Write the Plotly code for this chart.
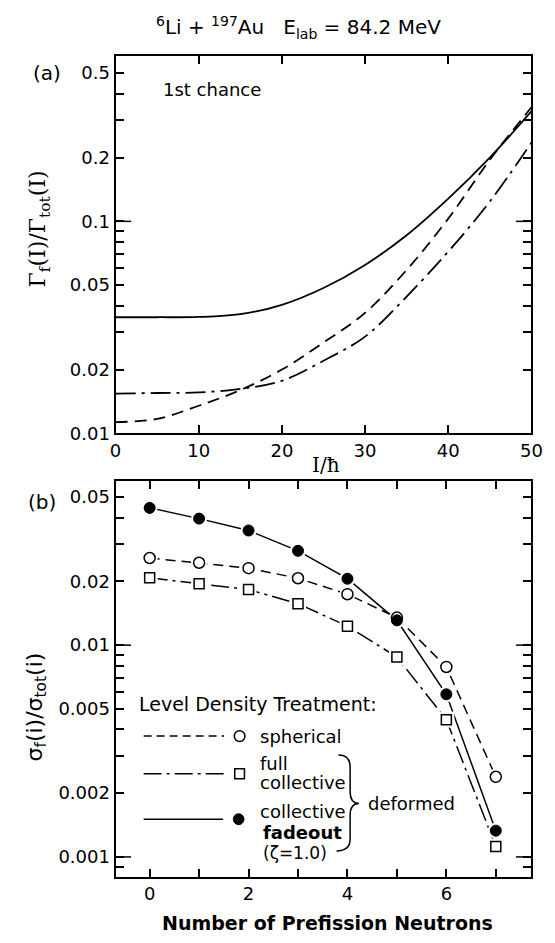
import numpy as np
import plotly.graph_objects as go

W, H = 555, 943
SANS = "DejaVu Sans"
SERIF = "DejaVu Serif"

# ---------------- data: panel (a) ----------------
spin_I = [0, 5, 10, 15, 20, 25, 30, 35, 40, 45, 50]
ratio_fadeout = [0.0353, 0.0353, 0.0354, 0.0365, 0.0404, 0.0485, 0.0623, 0.086, 0.128, 0.200, 0.330]
ratio_spherical = [0.0113, 0.0117, 0.0135, 0.0160, 0.0200, 0.0268, 0.0370, 0.0590, 0.103, 0.195, 0.345]
ratio_fullcoll = [0.0154, 0.0155, 0.0156, 0.0162, 0.0177, 0.0220, 0.0286, 0.0442, 0.072, 0.124, 0.235]

a_tickvals = [0.01, 0.02, 0.05, 0.1, 0.2, 0.5]
a_ticktext = ["0.01", "0.02", "0.05", "0.1", "0.2", "0.5"]
a_minor = [0.03, 0.04, 0.06, 0.07, 0.08, 0.09, 0.3, 0.4]
a_xticks = [0, 10, 20, 30, 40, 50]

# ---------------- data: panel (b) ----------------
n_neutrons = [0, 1, 2, 3, 4, 5, 6, 7]
sig_spherical = [0.0258, 0.0245, 0.0231, 0.0207, 0.0174, 0.0135, 0.00789, 0.00239]
sig_fullcoll = [0.0208, 0.0195, 0.0183, 0.0157, 0.0123, 0.00879, 0.00445, 0.00112]
sig_fadeout = [0.0445, 0.0396, 0.0348, 0.0279, 0.0206, 0.0131, 0.00586, 0.00133]

b_tickvals = [0.001, 0.002, 0.005, 0.01, 0.02, 0.05]
b_ticktext = ["0.001", "0.002", "0.005", "0.01", "0.02", "0.05"]
b_minor = [0.0009, 0.003, 0.004, 0.006, 0.007, 0.008, 0.009, 0.03, 0.04]
b_xticks = [0, 2, 4, 6]
b_xminor = [1, 3, 5, 7]


def px(x):
    return x / W


def py(y):
    return 1 - y / H


DASH = "12px,7px"
DASHDOT = "20px,6px,3px,6px"
LW = 1.8

fig = go.Figure()

# panel (a) curves
fig.add_trace(go.Scatter(x=spin_I, y=ratio_fadeout, mode="lines", line=dict(color="black", width=LW, shape="spline"),
                         xaxis="x", yaxis="y", showlegend=False))
fig.add_trace(go.Scatter(x=spin_I, y=ratio_spherical, mode="lines", line=dict(color="black", width=LW, dash=DASH, shape="spline"),
                         xaxis="x", yaxis="y", showlegend=False))
fig.add_trace(go.Scatter(x=spin_I, y=ratio_fullcoll, mode="lines", line=dict(color="black", width=LW, dash=DASHDOT, shape="spline"),
                         xaxis="x", yaxis="y", showlegend=False))

# panel (b) lines
fig.add_trace(go.Scatter(x=n_neutrons, y=sig_spherical, mode="lines", line=dict(color="black", width=1.5, dash="10px,6px"),
                         xaxis="x2", yaxis="y2", showlegend=False))
fig.add_trace(go.Scatter(x=n_neutrons, y=sig_fullcoll, mode="lines", line=dict(color="black", width=1.5, dash="18px,5px,3px,5px"),
                         xaxis="x2", yaxis="y2", showlegend=False))
fig.add_trace(go.Scatter(x=n_neutrons, y=sig_fadeout, mode="lines", line=dict(color="black", width=1.5),
                         xaxis="x2", yaxis="y2", showlegend=False))
# white halos to create gaps between lines and markers
for ser, sym in [(sig_spherical, "circle"), (sig_fullcoll, "square"), (sig_fadeout, "circle")]:
    fig.add_trace(go.Scatter(x=n_neutrons, y=ser, mode="markers",
                             marker=dict(symbol=sym, size=16, color="white", line=dict(width=0)),
                             xaxis="x2", yaxis="y2", showlegend=False, hoverinfo="skip"))
# markers
fig.add_trace(go.Scatter(x=n_neutrons, y=sig_spherical, mode="markers",
                         marker=dict(symbol="circle", size=11, color="white", line=dict(color="black", width=1.5)),
                         xaxis="x2", yaxis="y2", showlegend=False))
fig.add_trace(go.Scatter(x=n_neutrons, y=sig_fullcoll, mode="markers",
                         marker=dict(symbol="square", size=10, color="white", line=dict(color="black", width=1.5)),
                         xaxis="x2", yaxis="y2", showlegend=False))
fig.add_trace(go.Scatter(x=n_neutrons, y=sig_fadeout, mode="markers",
                         marker=dict(symbol="circle", size=11, color="black", line=dict(color="black", width=1)),
                         xaxis="x2", yaxis="y2", showlegend=False))

XDOM = [px(113), px(542)]
tickfont = dict(family=SANS, size=18, color="black")
common = dict(showline=True, linewidth=2, linecolor="black", mirror="ticks", ticks="inside",
              ticklen=8, tickwidth=1.5, tickcolor="black", showgrid=False, zeroline=False,
              tickfont=tickfont, ticklabeloverflow="allow")
minor_common = dict(ticks="inside", ticklen=8, tickwidth=1.5, tickcolor="black", showgrid=False)

a_range = [-2, np.log10(0.6)]
b_range = [-3.093, -1.224]

fig.update_layout(
    width=W, height=H,
    margin=dict(l=0, r=0, t=0, b=0, pad=0),
    paper_bgcolor="white", plot_bgcolor="white",
    font=dict(family=SANS, color="black"),
    xaxis=dict(domain=XDOM, anchor="y", range=[0, 50], tickvals=a_xticks, **common),
    yaxis=dict(domain=[py(438), py(57)], anchor="x", type="log", range=a_range,
               tickvals=a_tickvals, ticktext=a_ticktext, minor=dict(tickvals=a_minor, **minor_common), **common),
    xaxis2=dict(domain=XDOM, anchor="y2", range=[-0.69, 7.72], tickvals=b_xticks,
                minor=dict(tickvals=b_xminor, **minor_common), **common),
    yaxis2=dict(domain=[py(886), py(486)], anchor="x2", type="log", range=b_range,
                tickvals=b_tickvals, ticktext=b_ticktext, minor=dict(tickvals=b_minor, **minor_common), **common),
)

# long decade ticks
shapes = []
plot_w = 542 - 113
long_frac = 16 / plot_w


def decade_ticks(val, rng, xr, yr):
    f = (np.log10(val) - rng[0]) / (rng[1] - rng[0])
    out = []
    for x0, x1 in [(0, long_frac), (1 - long_frac, 1)]:
        out.append(dict(type="line", xref=xr, yref=yr, x0=x0, x1=x1, y0=f, y1=f,
                        line=dict(color="black", width=1.5)))
    return out


shapes += decade_ticks(0.1, a_range, "x domain", "y domain")
shapes += decade_ticks(0.01, b_range, "x2 domain", "y2 domain")
shapes += decade_ticks(0.001, b_range, "x2 domain", "y2 domain")

# legend line samples
shapes.append(dict(type="line", xref="paper", yref="paper", x0=px(142), x1=px(225), y0=py(744), y1=py(744),
                   line=dict(color="black", width=1.5, dash="8px,5px")))
shapes.append(dict(type="line", xref="paper", yref="paper", x0=px(142), x1=px(225), y0=py(782), y1=py(782),
                   line=dict(color="black", width=1.5, dash="18px,5px,3px,5px")))
shapes.append(dict(type="line", xref="paper", yref="paper", x0=px(142), x1=px(224), y0=py(828), y1=py(828),
                   line=dict(color="black", width=1.5)))
# legend symbols
r = 5.5
shapes.append(dict(type="circle", xref="paper", yref="paper", x0=px(241 - r), x1=px(241 + r),
                   y0=py(744 + r), y1=py(744 - r), fillcolor="white", line=dict(color="black", width=1.5)))
shapes.append(dict(type="rect", xref="paper", yref="paper", x0=px(236), x1=px(246),
                   y0=py(787), y1=py(777), fillcolor="white", line=dict(color="black", width=1.5)))
shapes.append(dict(type="circle", xref="paper", yref="paper", x0=px(240 - r), x1=px(240 + r),
                   y0=py(828 + r), y1=py(828 - r), fillcolor="black", line=dict(color="black", width=1)))

# brace
bp = [("M", [(343, 763)]), ("Q", [(355, 763), (355, 775)]), ("L", [(355, 800)]),
      ("Q", [(355, 812), (364, 812)]), ("Q", [(355, 812), (355, 824)]), ("L", [(355, 848)]),
      ("Q", [(355, 860), (341, 860)])]
path = " ".join(cmd + " " + " ".join(f"{px(x):.5f},{py(y):.5f}" for x, y in pts) for cmd, pts in bp)
shapes.append(dict(type="path", xref="paper", yref="paper", path=path, line=dict(color="black", width=1.5)))

fig.update_layout(shapes=shapes)

annotations = []


def ann(text, x, y, size=18, xanchor="center", family=SANS, angle=0):
    annotations.append(dict(text=text, x=px(x), y=py(y), xref="paper", yref="paper", showarrow=False,
                            xanchor=xanchor, yanchor="middle", textangle=angle,
                            font=dict(family=family, size=size, color="black")))


ann("<sup>6</sup>Li + <sup>197</sup>Au&nbsp;&nbsp;&nbsp;E<sub>lab</sub> = 84.2 MeV", 302, 28, size=20)
ann("(a)", 42, 74, size=20)
ann("(b)", 37, 507, size=20)
ann("1st chance", 160, 90, size=18, xanchor="left")
ann("Γ<sub>f</sub>(I)/Γ<sub>tot</sub>(I)", 35, 231, size=22, family=SERIF, angle=-90)
ann("I/ħ", 330, 470, size=20, family=SERIF)
ann("σ<sub>f</sub>(i)/σ<sub>tot</sub>(i)", 31, 715, size=22, angle=-90)
ann("<b>Number of Prefission Neutrons</b>", 332, 933, size=19)

ann("Level Density Treatment:", 135, 712, size=19, xanchor="left")
ann("spherical", 260, 744, size=18, xanchor="left")
ann("full", 260, 772, size=18, xanchor="left")
ann("collective", 260, 791, size=18, xanchor="left")
ann("collective", 260, 820, size=18, xanchor="left")
ann("<b>fadeout</b>", 263, 841, size=18, xanchor="left")
ann("(ζ=1.0)", 263, 862, size=17, xanchor="left")
ann("deformed", 371, 812, size=18, xanchor="left")

fig.update_layout(annotations=annotations)

fig.write_html("out.html", config={"displayModeBar": False},
               post_script="document.body.style.margin='0';document.body.style.overflow='hidden';")
